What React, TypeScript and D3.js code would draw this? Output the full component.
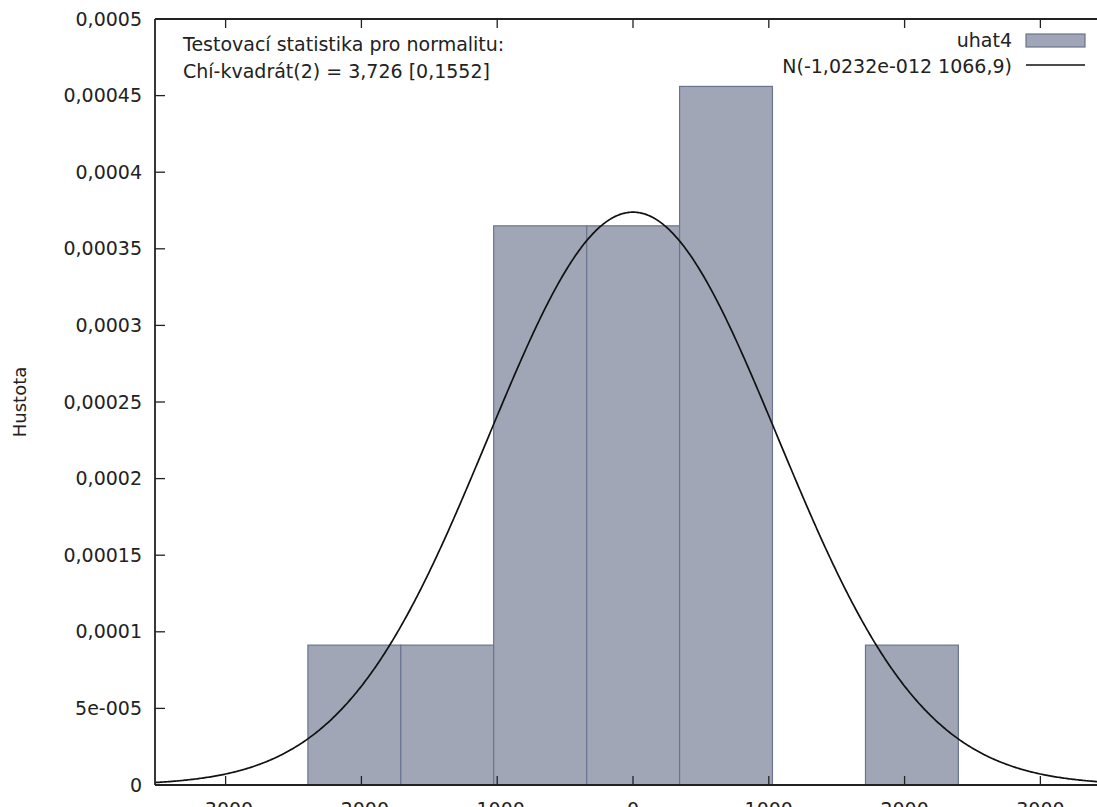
import { useEffect, useRef } from 'react';
import * as d3 from 'd3';

// histogram of residuals uhat4 (density scale)
const binEdges = [-2394, -1710, -1026, -341, 343, 1027, 1712, 2396];
const binDensity = [0.0000913, 0.0000913, 0.000365, 0.000365, 0.000456, 0, 0.0000913];

const normMean = -1.0232e-12;
const normSd = 1066.9;

const xTicks = [-3000, -2000, -1000, 0, 1000, 2000, 3000];
const xTickLabels = ['-3000', '-2000', '-1000', '0', '1000', '2000', '3000'];
const yTicks = [0, 0.00005, 0.0001, 0.00015, 0.0002, 0.00025, 0.0003, 0.00035, 0.0004, 0.00045, 0.0005];
const yTickLabels = ['0', '5e-005', '0,0001', '0,00015', '0,0002', '0,00025', '0,0003', '0,00035', '0,0004', '0,00045', '0,0005'];

const seriesName = 'uhat4';
const curveName = 'N(-1,0232e-012 1066,9)';
const testLines = ['Testovací statistika pro normalitu:', 'Chí-kvadrát(2) = 3,726 [0,1552]'];
const yAxisLabel = 'Hustota';

const App = () => {
    const svgRef = useRef<SVGSVGElement>(null);

    useEffect(() => {
        const W = 1097, H = 807;
        const left = 155, top = 19, bottom = 785, right = 1111;
        const font = 'DejaVu Sans, Verdana, sans-serif';
        const fs = 19;

        const root = d3.select(svgRef.current);
        root.selectAll('*').remove();
        root.attr('width', W).attr('height', H);

        const x = d3.scaleLinear().domain([-3520, 3520]).range([left, right]);
        const y = d3.scaleLinear().domain([0, 0.0005]).range([bottom, top]);

        const bins = binDensity.map((d, i) => ({ x0: binEdges[i], x1: binEdges[i + 1], d }));

        root.append('g')
            .selectAll('rect')
            .data(bins.filter(b => b.d > 0))
            .enter()
            .append('rect')
            .attr('x', b => x(b.x0))
            .attr('y', b => y(b.d))
            .attr('width', b => x(b.x1) - x(b.x0))
            .attr('height', b => y(0) - y(b.d))
            .attr('fill', '#a0a6b6')
            .attr('stroke', '#6a7490')
            .attr('stroke-width', 1.2);

        // normal density curve
        const pdf = (v: number) => Math.exp(-0.5 * ((v - normMean) / normSd) ** 2) / (normSd * Math.sqrt(2 * Math.PI));
        const xs = d3.range(-3520, 3521, 10);
        const line = d3.line<number>().x(v => x(v)).y(v => y(pdf(v)));
        root.append('path')
            .attr('d', line(xs))
            .attr('fill', 'none')
            .attr('stroke', '#111')
            .attr('stroke-width', 1.7);

        // frame
        const frame = root.append('g').attr('stroke', '#222').attr('stroke-width', 1.8).attr('fill', 'none');
        frame.append('line').attr('x1', left).attr('x2', left).attr('y1', top).attr('y2', bottom);
        frame.append('line').attr('x1', left).attr('x2', right).attr('y1', top).attr('y2', top);
        frame.append('line').attr('x1', left).attr('x2', right).attr('y1', bottom).attr('y2', bottom);

        // ticks (inward)
        const tk = root.append('g').attr('stroke', '#222').attr('stroke-width', 1.3);
        yTicks.forEach(t => {
            tk.append('line').attr('x1', left).attr('x2', left + 10).attr('y1', y(t)).attr('y2', y(t));
        });
        xTicks.forEach(t => {
            tk.append('line').attr('x1', x(t)).attr('x2', x(t)).attr('y1', top).attr('y2', top + 9);
            tk.append('line').attr('x1', x(t)).attr('x2', x(t)).attr('y1', bottom).attr('y2', bottom - 9);
        });

        const txt = root.append('g').attr('font-family', font).attr('font-size', fs).attr('fill', '#222');

        yTicks.forEach((t, i) => {
            txt.append('text')
                .attr('x', 142).attr('y', y(t)).attr('dy', '0.35em')
                .attr('text-anchor', 'end').text(yTickLabels[i]);
        });
        xTicks.forEach((t, i) => {
            txt.append('text')
                .attr('x', x(t)).attr('y', 816)
                .attr('text-anchor', 'middle').text(xTickLabels[i]);
        });

        txt.append('text')
            .attr('transform', `translate(26, ${(top + bottom) / 2}) rotate(-90)`)
            .attr('text-anchor', 'middle').attr('font-size', 18).text(yAxisLabel);

        testLines.forEach((s, i) => {
            txt.append('text').attr('x', 183).attr('y', 51 + i * 27).text(s);
        });

        // legend
        txt.append('text').attr('x', 1012).attr('y', 47).attr('text-anchor', 'end').text(seriesName);
        root.append('rect')
            .attr('x', 1026).attr('y', 34).attr('width', 59).attr('height', 13)
            .attr('fill', '#a0a6b6').attr('stroke', '#6a7490').attr('stroke-width', 1.2);
        txt.append('text').attr('x', 1012).attr('y', 73).attr('text-anchor', 'end').text(curveName);
        root.append('line')
            .attr('x1', 1026).attr('x2', 1085).attr('y1', 65).attr('y2', 65)
            .attr('stroke', '#111').attr('stroke-width', 1.6);
    }, []);

    return (
        <svg ref={svgRef} style={{ position: 'absolute', left: 0, top: 0, background: '#fff' }} />
    );
};

export default App;
